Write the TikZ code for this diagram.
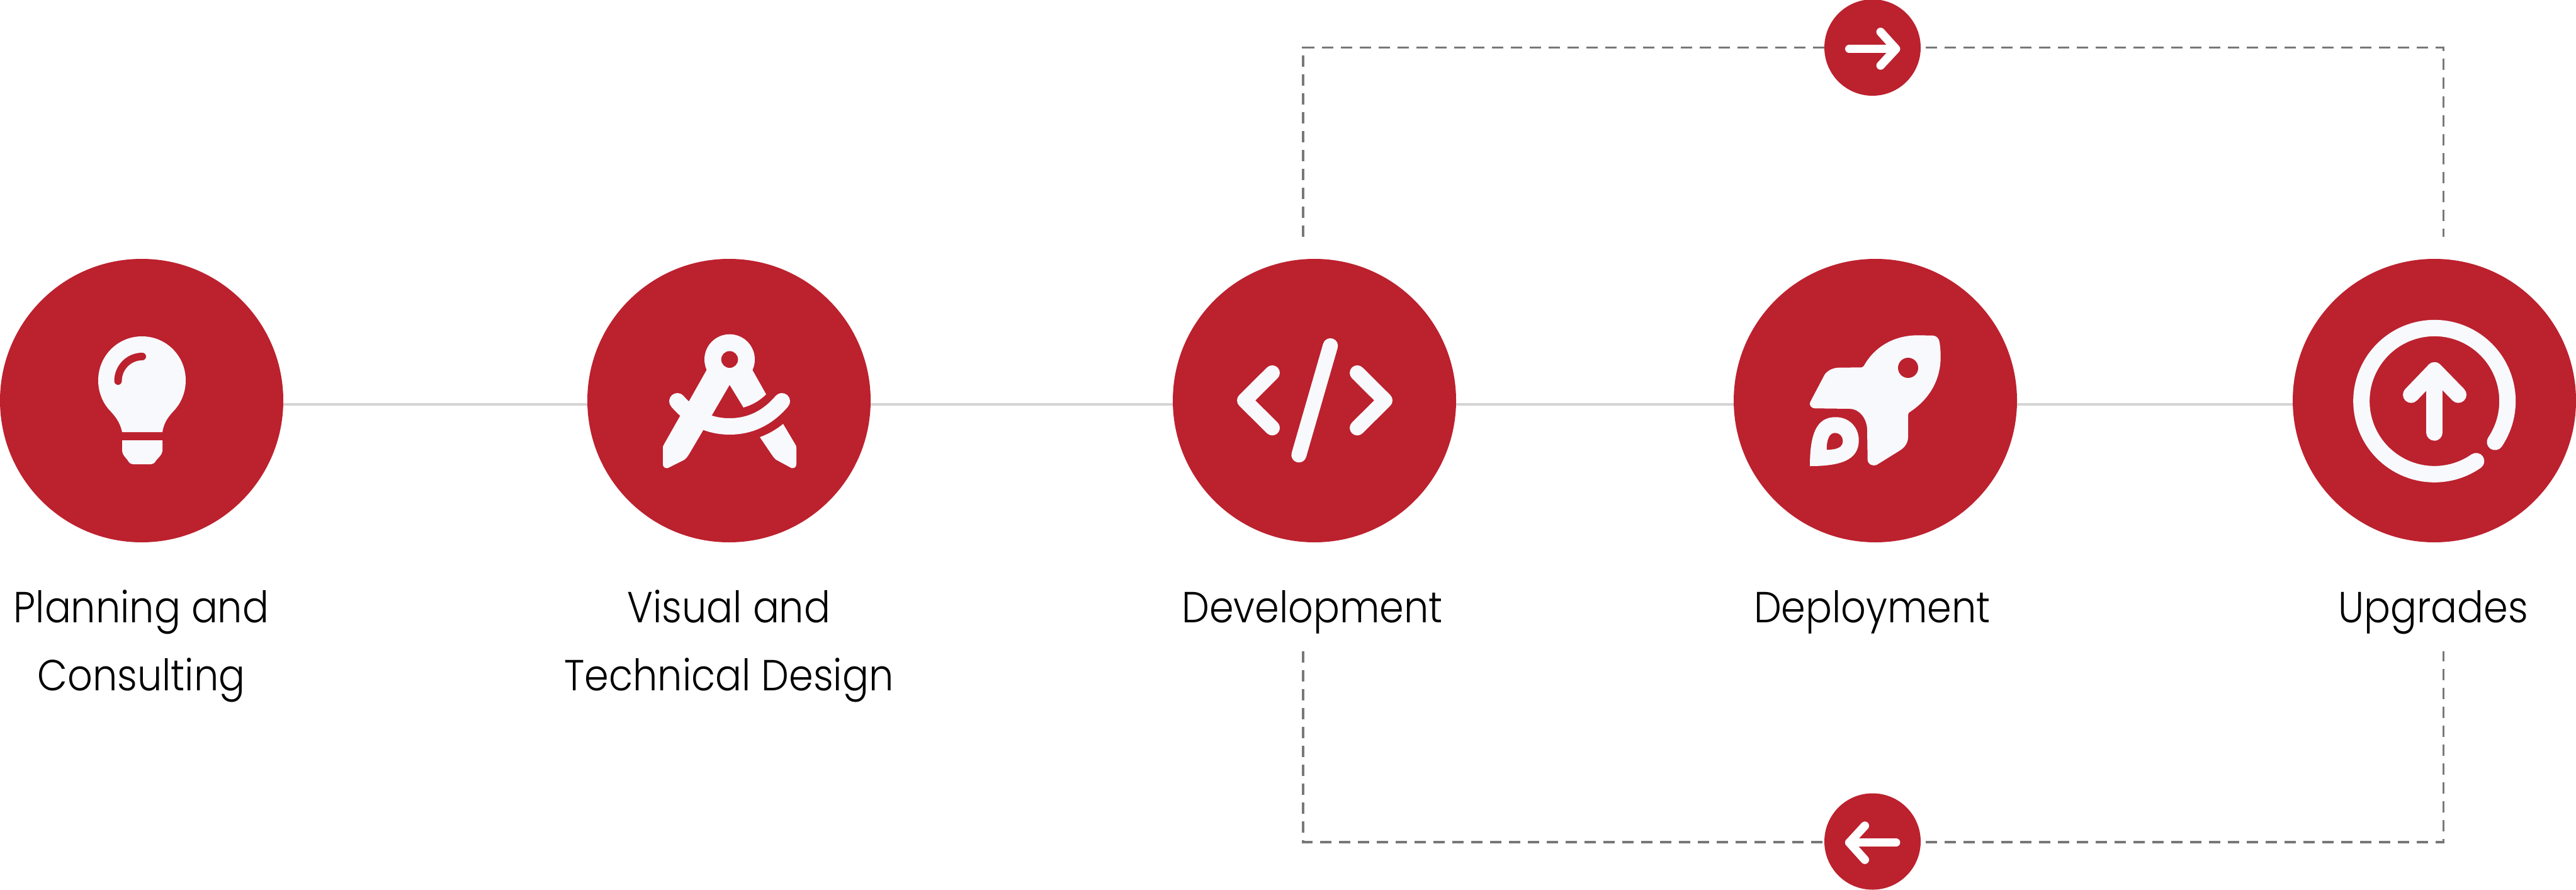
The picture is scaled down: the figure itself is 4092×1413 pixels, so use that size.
\documentclass[tikz,border=0pt]{standalone}
\usepackage{fontspec}
\setmainfont{Poppins Light}[FakeStretch=0.9]
\usepackage{xcolor}
\definecolor{stepred}{RGB}{188,33,46}
\definecolor{iconwhite}{RGB}{248,249,253}
\definecolor{flowgrey}{RGB}{212,212,212}
\definecolor{returngrey}{RGB}{120,120,120}
\tikzset{
	stepcircle/.style={circle, fill=stepred, inner sep=0, outer sep=0, minimum size=450pt},
	turncircle/.style={circle, fill=stepred, inner sep=0, outer sep=0, minimum size=153pt},
	steplabel/.style={anchor=base, align=center, inner sep=0, font=\fontsize{69}{108}\selectfont},
	flowline/.style={draw=flowgrey, line width=3.6pt},
	returnline/.style={draw=returngrey, line width=3.4pt, dash pattern=on 18pt off 12pt},
	iconstroke/.style={draw=iconwhite, line width=26pt, line cap=round, line join=round},
	turnarrow/.style={draw=white, line width=13.5pt, line cap=round, line join=round}
}
\begin{document}
\begin{tikzpicture}[x=1pt, y=-1pt]
		\useasboundingbox (0,0) rectangle (4092,1413);
		% steps
		\node[stepcircle] (planning) at (225,636) {};
		\node[stepcircle] (design) at (1158,636) {};
		\node[stepcircle] (development) at (2088,636) {};
		\node[stepcircle] (deployment) at (2979,636) {};
		\node[stepcircle] (upgrades) at (3867,636) {};
		\node[turncircle] (forward) at (2974.5,75.5) {};
		\node[turncircle] (backward) at (2974.5,1336) {};
		% labels
		\node[steplabel] (planninglabel) at (224.5,1096) {Planning and\\Consulting};
		\node[steplabel] (designlabel) at (1158,1096) {Visual and\\Technical Design};
		\node[steplabel] (developmentlabel) at (2084.5,988) {Development};
		\node[steplabel] (deploymentlabel) at (2974,988) {Deployment};
		\node[steplabel] (upgradeslabel) at (3865,988) {Upgrades};
		% flow
		\draw[flowline] ([yshift=-5.7pt]planning.east) -- ([yshift=-5.7pt]design.west);
		\draw[flowline] ([yshift=-5.7pt]design.east) -- ([yshift=-5.7pt]development.west);
		\draw[flowline] ([yshift=-5.7pt]development.east) -- ([yshift=-5.7pt]deployment.west);
		\draw[flowline] ([yshift=-5.7pt]deployment.east) -- ([yshift=-5.7pt]upgrades.west);
		% dashed loop
		\coordinate (devtop) at (2070,376);
		\coordinate (devbottom) at (2070,1034);
		\coordinate (upgtop) at (3881.7,376);
		\coordinate (upgbottom) at (3881.7,1034);
		\draw[returnline] (devtop) |- (forward.west);
		\draw[returnline] ([xshift=8pt]forward.east) -| (upgtop);
		\draw[returnline] (devbottom) |- ([yshift=-1pt]backward.west);
		\draw[returnline] ([xshift=8pt,yshift=-1pt]backward.east) -| (upgbottom);
		% bulb
		\fill[iconwhite] (194,686) .. controls (190,668) and (182,660) .. (172,649)
			.. controls (162,637) and (156,621) .. (156,604)
			.. controls (156,565) and (187,534) .. (225.5,534)
			.. controls (264,534) and (295,565) .. (295,604)
			.. controls (295,621) and (289,637) .. (279,649)
			.. controls (269,660) and (261,668) .. (258,686) -- cycle;
		\fill[iconwhite] (194,699) -- (258,699) -- (258,716) .. controls (258,722) and (250,728) .. (248,731)
			.. controls (246,735) and (243,737) .. (239,737) -- (212,737)
			.. controls (208,737) and (205,735) .. (203,731)
			.. controls (201,728) and (194,722) .. (194,716) -- cycle;
		\draw[stepred, line width=12pt, line cap=round] (187.5,605) .. controls (187.5,583) and (205,566) .. (226,566);
		% compass
		\fill[iconwhite] (1122.7,587) -- (1095,636) -- (1080,661) -- (1055,705)
			.. controls (1053,708) and (1053,709) .. (1053,712) -- (1053,737)
			.. controls (1053,742) and (1057,744) .. (1061,743) -- (1087,730)
			.. controls (1090,728) and (1092,725) .. (1094,722) -- (1117,683) -- (1131,659)
			-- (1159,611) -- (1181,647) .. controls (1195,643) and (1207,636) .. (1217,626)
			-- (1195,587) -- cycle;
		\fill[iconwhite] (1159,570.7) circle (40pt);
		\fill[stepred] (1159,570.7) circle (13.3pt);
		\draw[iconstroke] (1076,637) .. controls (1100,665) and (1128,677) .. (1159,677)
			.. controls (1190,677) and (1218,665) .. (1242,637);
		\fill[iconwhite] (1207,694) .. controls (1221,689) and (1233,682) .. (1244,673) -- (1263,705)
			.. controls (1265,708) and (1265,709) .. (1265,712) -- (1265,737)
			.. controls (1265,742) and (1261,744) .. (1257,743) -- (1233,730)
			.. controls (1230,728) and (1228,725) .. (1226,722) -- cycle;
		% code
		\draw[iconstroke, line width=24pt] (2021,592) -- (1977,635.7) -- (2021,679.3);
		\draw[iconstroke, line width=24pt] (2156,592) -- (2200,635.7) -- (2156,679.3);
		\draw[iconstroke, line width=24pt] (2113.3,549) -- (2063.3,722.3);
		% rocket
		\fill[iconwhite] (3070,532.7) .. controls (3076,533) and (3080,537) .. (3081,543.3)
			.. controls (3082,550) and (3082.7,558) .. (3082.7,566.7)
			.. controls (3082.7,604) and (3064,634) .. (3035,653.3)
			.. controls (3032,655) and (3031,656) .. (3031,659) -- (3031,693.3)
			.. controls (3031,703) and (3026,710) .. (3018.3,715) -- (2981.7,737.7)
			.. controls (2974,741) and (2967,737) .. (2966.7,730) -- (2966,683.3)
			.. controls (2966,664) and (2953,649) .. (2938.3,649) -- (2883.3,648.3)
			.. controls (2876,648) and (2873,642) .. (2876,637.3) -- (2898.3,595)
			.. controls (2903,588) and (2912,583.7) .. (2921.7,583.7) -- (2956.7,583.3)
			.. controls (2958,583) and (2960,582) .. (2960.7,581)
			.. controls (2976,553) and (3006,532.3) .. (3046.7,532.3) -- cycle;
		\fill[stepred] (3031,584) circle (16pt);
		\fill[iconwhite] (2875,740) .. controls (2875,690) and (2885,662) .. (2915.7,662.3)
			.. controls (2937,662) and (2952.7,678) .. (2952.7,699)
			.. controls (2952.7,730) and (2925,740) .. (2875,740) -- cycle;
		\fill[stepred] (2901.7,714) .. controls (2901.7,700) and (2905,687.3) .. (2915,687.3)
			.. controls (2922,687.3) and (2927.3,693) .. (2927.3,700)
			.. controls (2927.3,710) and (2918,714) .. (2901.7,714) -- cycle;
		% ring and upward arrow
		\draw[iconstroke] (3963.3,701.7) arc[start angle=-34, end angle=304.8, radius=116pt];
		\draw[iconstroke] (3830,626.7) -- (3867.3,588) -- (3905,626.7);
		\draw[iconstroke] (3867.3,588) -- (3867.3,686.7);
		% small arrows
		\draw[turnarrow] (2937.7,77.7) -- (3010,77.7);
		\draw[turnarrow] (2987.3,50.7) -- (3011.7,77.7) -- (2987.3,104);
		\draw[turnarrow] (3011.7,1337.7) -- (2937.7,1337.7);
		\draw[turnarrow] (2962.3,1311) -- (2937.7,1337.7) -- (2962.3,1365);
	\end{tikzpicture}
\end{document}
